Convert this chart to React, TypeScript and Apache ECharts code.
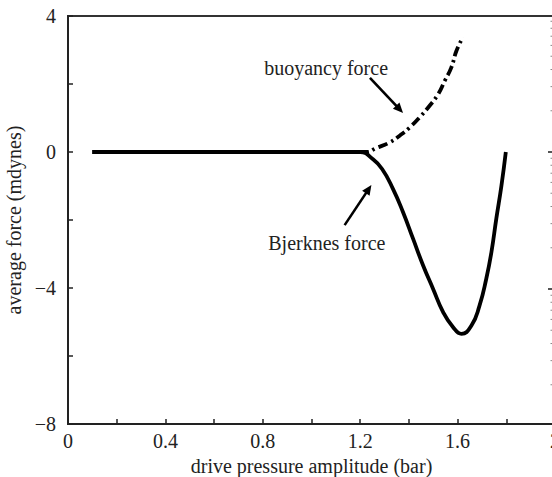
import React, { useEffect, useRef } from "react";
import * as echarts from "echarts";

const FONT = "Liberation Serif, Times New Roman, serif";

// Bjerknes force (solid)
const bjerknesX = [0.1, 0.4, 0.8, 1.0, 1.15, 1.2, 1.25, 1.29, 1.335, 1.376, 1.417, 1.458, 1.499, 1.54, 1.58, 1.616, 1.657, 1.69, 1.718, 1.739, 1.759, 1.78, 1.798];
const bjerknesY = [0, 0, 0, 0, 0, 0, -0.2, -0.5, -1.09, -1.77, -2.55, -3.33, -4.02, -4.7, -5.14, -5.35, -5.1, -4.52, -3.72, -2.94, -1.96, -0.99, 0];

// buoyancy force (dash-dot)
const buoyancyX = [0.1, 0.4, 0.8, 1.0, 1.15, 1.225, 1.267, 1.321, 1.362, 1.403, 1.444, 1.485, 1.52, 1.547, 1.574, 1.595, 1.622];
const buoyancyY = [0, 0, 0, 0, 0, 0, 0.12, 0.28, 0.48, 0.72, 1.02, 1.36, 1.7, 2.09, 2.48, 2.97, 3.38];

const xAxisTitle = "drive pressure amplitude (bar)";
const yAxisTitle = "average force (mdynes)";
const buoyancyLabel = "buoyancy force";
const bjerknesLabel = "Bjerknes force";

// annotation anchors in data coordinates
const buoyancyText = [1.06, 2.47];
const buoyancyArrow = [[1.24, 2.18], [1.376, 1.15]];
const bjerknesText = [1.063, -2.68];
const bjerknesArrow = [[1.136, -2.15], [1.246, -0.97]];

function pairs(xs: number[], ys: number[]) {
  return xs.map((x, i) => [x, ys[i]]);
}

export default function App() {
  const ref = useRef<HTMLDivElement>(null);
  useEffect(() => {
    if (!ref.current) return;
    const chart = echarts.init(ref.current, undefined, { renderer: "svg" });
    const option: any = {
      animation: false,
      backgroundColor: "#fff",
      grid: {
        left: 68,
        top: 16,
        width: 487,
        height: 408,
        show: true,
        borderColor: "#333",
        borderWidth: 2,
        containLabel: false,
        outerBoundsMode: "none",
      },
      xAxis: {
        type: "value",
        min: 0,
        max: 2,
        interval: 0.2,
        name: xAxisTitle,
        nameLocation: "middle",
        nameGap: 31,
        nameTextStyle: { fontFamily: FONT, fontSize: 20, color: "#222" },
        axisLine: { show: true, onZero: false, lineStyle: { color: "#222", width: 2 } },
        axisTick: { show: true, inside: true, length: 5, lineStyle: { color: "#222", width: 1.5 } },
        splitLine: { show: false },
        axisLabel: {
          fontFamily: FONT,
          fontSize: 20,
          color: "#222",
          margin: 7,
          showMaxLabel: true,
          showMinLabel: true,
          formatter: (v: number) => {
            const r = Math.round(v * 10);
            if (r % 4 !== 0) return "";
            if (r === 0) return "0";
            if (r % 10 === 0) return String(r / 10);
            return (r / 10).toFixed(1);
          },
        },
      },
      yAxis: {
        type: "value",
        min: -8,
        max: 4,
        interval: 2,
        name: yAxisTitle,
        nameLocation: "middle",
        nameGap: 37,
        nameTextStyle: { fontFamily: FONT, fontSize: 20, color: "#222" },
        axisLine: { show: true, onZero: false, lineStyle: { color: "#222", width: 2 } },
        axisTick: { show: true, inside: true, length: 5, lineStyle: { color: "#222", width: 1.5 } },
        splitLine: { show: false },
        axisLabel: {
          fontFamily: FONT,
          fontSize: 20,
          color: "#222",
          margin: 12,
          formatter: (v: number) => {
            const r = Math.round(v);
            if (r % 4 !== 0) return "";
            if (r < 0) return "\u2212" + Math.abs(r);
            return String(r);
          },
        },
      },
      series: [
        {
          name: "buoyancy force",
          type: "line",
          data: pairs(buoyancyX, buoyancyY),
          showSymbol: false,
          smooth: 0.5,
          lineStyle: { color: "#000", width: 3.8, type: [10, 4, 2.5, 4] },
          z: 3,
        },
        {
          name: "Bjerknes force",
          type: "line",
          data: pairs(bjerknesX, bjerknesY),
          showSymbol: false,
          smooth: 0.5,
          lineStyle: { color: "#000", width: 3.8 },
          z: 4,
        },
      ],
    };
    chart.setOption(option);

    const px = (p: number[]) => chart.convertToPixel({ gridIndex: 0 }, p) as number[];
    const arrow = (a: number[][]) => {
      const t = px(a[0]);
      const h = px(a[1]);
      const dx = h[0] - t[0];
      const dy = h[1] - t[1];
      const len = Math.sqrt(dx * dx + dy * dy);
      const ux = dx / len;
      const uy = dy / len;
      const hl = 10;
      const hw = 4.5;
      const bx = h[0] - ux * hl;
      const by = h[1] - uy * hl;
      return [
        {
          type: "line",
          shape: { x1: t[0], y1: t[1], x2: bx + ux * 2, y2: by + uy * 2 },
          style: { stroke: "#000", lineWidth: 2.6 },
          z: 10,
        },
        {
          type: "polygon",
          shape: {
            points: [
              [h[0], h[1]],
              [bx - uy * hw, by + ux * hw],
              [bx + uy * hw, by - ux * hw],
            ],
          },
          style: { fill: "#000" },
          z: 10,
        },
      ];
    };
    const label = (p: number[], text: string) => {
      const q = px(p);
      return {
        type: "text",
        x: q[0],
        y: q[1],
        style: {
          text,
          fontFamily: FONT,
          fontSize: 20,
          fill: "#222",
          textAlign: "center",
          textVerticalAlign: "middle",
        },
        z: 10,
      };
    };

    // faint tick marks of the neighbouring panel at the right edge (log-scale decades)
    const decadeTop = 15;
    const decade = 137;
    const edge: any[] = [];
    for (let d = 0; d < 3; d++) {
      const y0 = decadeTop + d * decade;
      if (d > 0) {
        edge.push({ type: "line", shape: { x1: 548, y1: y0, x2: 552, y2: y0 }, style: { stroke: "#555", lineWidth: 2 } });
      }
      for (let k = 2; k <= 9; k++) {
        const y = y0 + (1 - Math.log10(k)) * decade;
        edge.push({ type: "line", shape: { x1: 550.5, y1: y, x2: 552, y2: y }, style: { stroke: "#888", lineWidth: 1 } });
      }
    }

    chart.setOption({
      graphic: [
        label(buoyancyText, buoyancyLabel),
        ...arrow(buoyancyArrow),
        label(bjerknesText, bjerknesLabel),
        ...arrow(bjerknesArrow),
        ...edge,
      ],
    });

    return () => chart.dispose();
  }, []);
  return (
    <div
      ref={ref}
      style={{ position: "fixed", left: 0, top: 0, width: 552, height: 477, background: "#fff" }}
    />
  );
}
